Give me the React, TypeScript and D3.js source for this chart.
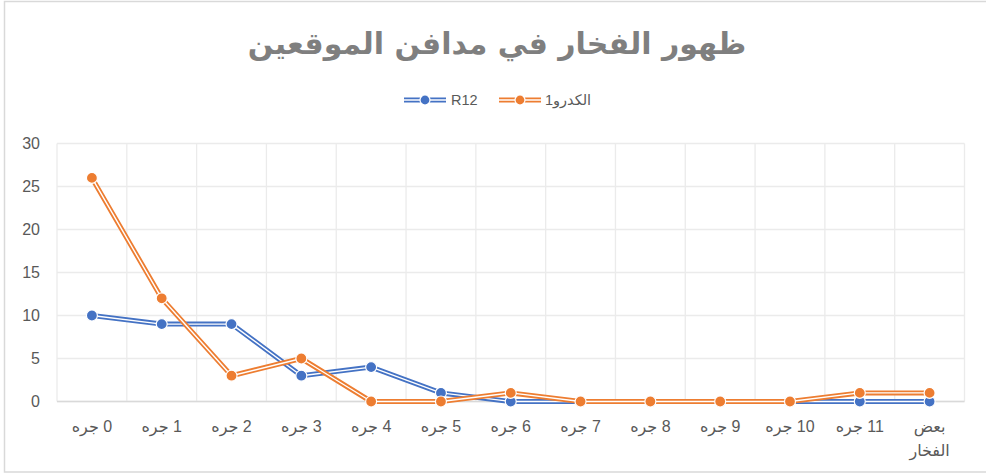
import React from "react";
import * as d3 from "d3";

const categories = ["0 جره", "1 جره", "2 جره", "3 جره", "4 جره", "5 جره", "6 جره", "7 جره", "8 جره", "9 جره", "10 جره", "11 جره", "بعض الفخار"];
const seriesR12 = [10, 9, 9, 3, 4, 1, 0, 0, 0, 0, 0, 0, 0];
const seriesKadro = [26, 12, 3, 5, 0, 0, 1, 0, 0, 0, 0, 1, 1];
const yTicks = [0, 5, 10, 15, 20, 25, 30];
const seriesNames = ["R12", "الكدرو1"];
const colors = ["#4472C4", "#ED7D31"];
const title = "ظهور الفخار في مدافن الموقعين";

const W = 986, H = 475;
const left = 57, right = 964.5, top = 143.5, bottom = 401.5;

export default function App() {
  const x = d3.scaleBand<string>().domain(categories).range([left, right]).padding(0);
  const y = d3.scaleLinear().domain([0, 30]).range([bottom, top]);
  const cx = (c: string) => (x(c) as number) + x.bandwidth() / 2;
  const line = d3.line<number>().x((_, i) => cx(categories[i])).y((v) => y(v));
  const series = [seriesR12, seriesKadro];
  const font = "'Liberation Sans', 'DejaVu Sans', Arial, sans-serif";

  const legendItems = [
    { x0: 404, name: seriesNames[0], color: colors[0], tx: 451 },
    { x0: 499, name: seriesNames[1], color: colors[1], tx: 545 },
  ];

  return (
    <svg width={W} height={H} style={{ position: "fixed", left: 0, top: 0, background: "#fff" }} fontFamily={font}>
      <rect x={0} y={0} width={W} height={H} fill="#fff" />
      <rect x={4.5} y={1.5} width={1000} height={470.5} fill="none" stroke="#d9d9d9" strokeWidth={1.5} />
      <text x={497} y={54} textAnchor="middle" fontSize={30} fontWeight="bold" fill="#7f7f7f" letterSpacing={2.2} fontFamily="'DejaVu Sans', sans-serif">{title}</text>

      {legendItems.map((l, i) => (
        <g key={i}>
          <line x1={l.x0} x2={l.x0 + 42} y1={100} y2={100} stroke={l.color} strokeWidth={5} />
          <line x1={l.x0} x2={l.x0 + 42} y1={100} y2={100} stroke="#fff" strokeWidth={1.4} />
          <circle cx={l.x0 + 21} cy={100} r={5} fill={l.color} stroke="#fff" strokeWidth={1.2} />
          <text x={l.tx} y={105} fontSize={14.5} fill="#595959" textAnchor="start">{l.name}</text>
        </g>
      ))}

      {yTicks.map((t) => (
        <line key={"h" + t} x1={left} x2={right} y1={y(t)} y2={y(t)} stroke="#ebebeb" strokeWidth={1.3} />
      ))}
      {categories.map((c, i) => (
        <line key={"v" + i} x1={x(c) as number} x2={x(c) as number} y1={top} y2={bottom} stroke="#ebebeb" strokeWidth={1.3} />
      ))}
      <line x1={right} x2={right} y1={top} y2={bottom} stroke="#ebebeb" strokeWidth={1.3} />
      <line x1={left} x2={right} y1={bottom} y2={bottom} stroke="#d9d9d9" strokeWidth={1.3} />

      {yTicks.map((t) => (
        <text key={"yt" + t} x={40} y={y(t) + 5.5} textAnchor="end" fontSize={16} fill="#595959">{t}</text>
      ))}
      {categories.map((c, i) => {
        const parts = c === "بعض الفخار" ? ["بعض", "الفخار"] : [c];
        return parts.map((p, j) => (
          <text key={"xt" + i + "-" + j} x={cx(c)} y={432 + j * 24} textAnchor="middle" fontSize={16} fill="#595959" direction="rtl">{p}</text>
        ));
      })}

      {series.map((s, k) => (
        <g key={"s" + k}>
          <path d={line(s) as string} fill="none" stroke={colors[k]} strokeWidth={5} strokeLinejoin="round" />
          <path d={line(s) as string} fill="none" stroke="#fff" strokeWidth={1.4} strokeLinejoin="round" />
          {s.map((v, i) => (
            <circle key={i} cx={cx(categories[i])} cy={y(v)} r={5.5} fill={colors[k]} stroke="#fff" strokeWidth={1.2} />
          ))}
        </g>
      ))}
    </svg>
  );
}
